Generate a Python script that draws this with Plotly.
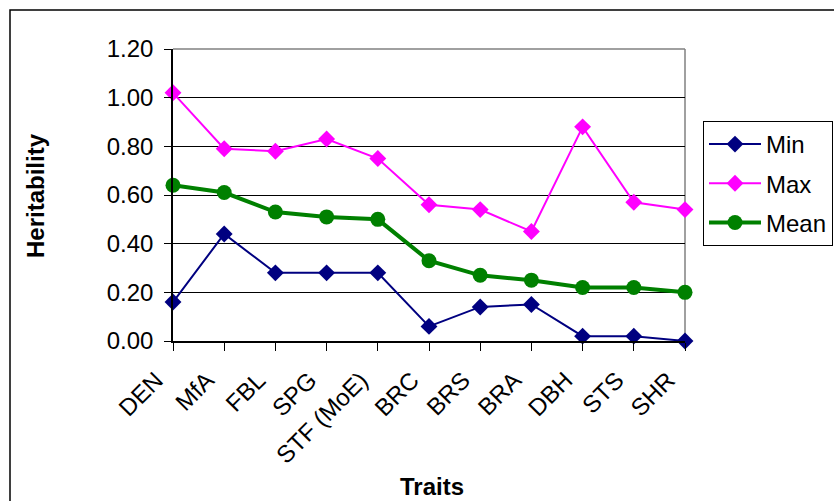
import plotly.graph_objects as go

traits = ["DEN", "MfA", "FBL", "SPG", "STF (MoE)", "BRC", "BRS", "BRA", "DBH", "STS", "SHR"]
h_min = [0.16, 0.44, 0.28, 0.28, 0.28, 0.06, 0.14, 0.15, 0.02, 0.02, 0.00]
h_max = [1.02, 0.79, 0.78, 0.83, 0.75, 0.56, 0.54, 0.45, 0.88, 0.57, 0.54]
h_mean = [0.64, 0.61, 0.53, 0.51, 0.50, 0.33, 0.27, 0.25, 0.22, 0.22, 0.20]
y_ticks = [0.0, 0.2, 0.4, 0.6, 0.8, 1.0, 1.2]

FONT = "Arial, Liberation Sans, sans-serif"
W, H = 834, 501
L, R, T, B = 173, 149, 49, 160
pw, ph = W - L - R, H - T - B
n = len(traits)

def px_x(x):
    return (x - L) / pw

def px_y(y):
    return (H - B - y) / ph

fig = go.Figure()
fig.add_trace(go.Scatter(
    x=traits, y=h_min, name="Min", mode="lines+markers", legendgroup="min",
    line=dict(color="#000080", width=2),
    marker=dict(symbol="diamond", size=13, color="#000080"),
    cliponaxis=False,
))
fig.add_trace(go.Scatter(
    x=traits, y=h_max, name="Max", mode="lines+markers", legendgroup="max",
    line=dict(color="#FF00FF", width=2),
    marker=dict(symbol="diamond", size=13, color="#FF00FF"),
    cliponaxis=False,
))
fig.add_trace(go.Scatter(
    x=traits, y=h_mean, name="Mean", mode="lines+markers", legendgroup="mean",
    line=dict(color="#008000", width=4),
    marker=dict(symbol="circle", size=15, color="#008000"),
    cliponaxis=False,
))

fig.update_layout(
    width=W, height=H,
    margin=dict(l=L, r=R, t=T, b=B, autoexpand=False),
    paper_bgcolor="white", plot_bgcolor="white",
    font=dict(family=FONT, size=24, color="black"),
    showlegend=True,
    legend=dict(
        x=px_x(703), xanchor="left", y=px_y(121), yanchor="top",
        bordercolor="black", borderwidth=1, bgcolor="white",
        font=dict(family=FONT, size=24, color="black"),
        tracegroupgap=5, itemwidth=52,
    ),
    xaxis=dict(
        type="category", range=[0, n - 1],
        showline=True, linecolor="black", linewidth=1.5,
        ticks="outside", ticklen=8, tickcolor="black", tickwidth=1,
        tickangle=-45, showgrid=False, zeroline=False,
        tickfont=dict(family=FONT, size=24),
        ticklabelstandoff=6, ticklabelshift=-17,
    ),
    yaxis=dict(
        range=[0, 1.2], tickvals=y_ticks, tickformat=".2f",
        showline=True, linecolor="black", linewidth=1.5,
        ticks="outside", ticklen=7, tickcolor="black", tickwidth=1,
        showgrid=True, gridcolor="black", gridwidth=1, zeroline=False,
        tickfont=dict(family=FONT, size=24), ticklabelstandoff=6,
    ),
    annotations=[
        dict(text="<b>Heritability</b>", x=px_x(35), y=px_y(196), xref="paper", yref="paper",
             textangle=-90, showarrow=False, font=dict(family=FONT, size=24),
             xanchor="center", yanchor="middle"),
        dict(text="<b>Traits</b>", x=px_x(432), y=px_y(486), xref="paper", yref="paper",
             showarrow=False, font=dict(family=FONT, size=24),
             xanchor="center", yanchor="middle"),
    ],
    shapes=[
        # plot-area frame on the top and right
        dict(type="line", xref="paper", yref="paper", x0=0, x1=1, y0=1, y1=1,
             line=dict(color="#808080", width=1.5), layer="below"),
        dict(type="line", xref="paper", yref="paper", x0=1, x1=1, y0=0, y1=1,
             line=dict(color="#808080", width=1.5), layer="below"),
        # outer chart border
        dict(type="rect", xref="paper", yref="paper",
             x0=px_x(10), x1=px_x(900), y0=px_y(10), y1=px_y(600),
             line=dict(color="black", width=1.5), fillcolor="rgba(0,0,0,0)"),
    ],
)

fig.write_html("out.html")
